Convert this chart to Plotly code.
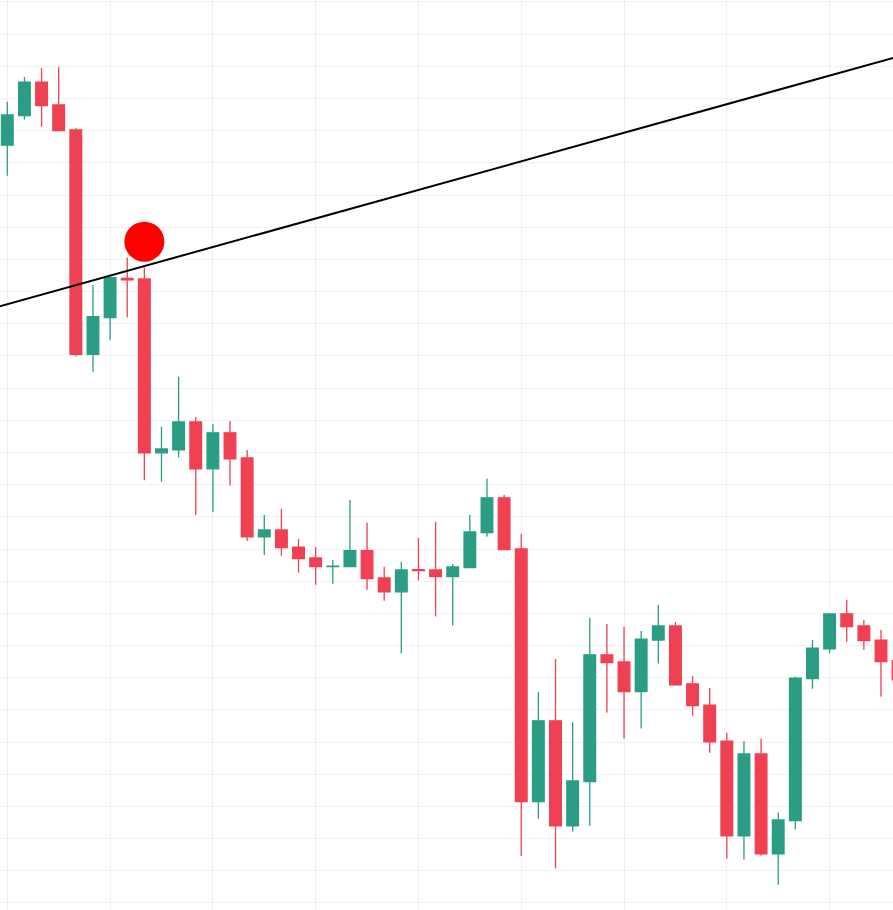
import plotly.graph_objects as go

# Candle index (bar number)
idx = list(range(53))

opens = [235.5, 244.7, 255.1, 248.0, 240.2, 170.5, 181.9, 194.1, 193.9, 139.9,
         140.8, 149.5, 134.9, 146.1, 138.3, 113.8, 115.9, 110.6, 107.2, 104.5,
         104.5, 109.5, 101.0, 96.7, 103.6, 103.5, 101.4, 104.2, 115.1, 125.9,
         110.0, 31.5, 56.6, 24.0, 37.7, 77.1, 74.9, 65.7, 81.7, 86.1,
         68.1, 61.5, 50.3, 20.9, 46.3, 15.3, 25.6, 69.7, 79.0, 89.8,
         86.1, 81.7, 75.3]
highs = [249.0, 256.7, 259.5, 259.8, 240.8, 192.0, 194.7, 200.6, 197.5, 148.0,
         163.5, 151.0, 148.8, 149.8, 140.8, 120.6, 122.4, 113.1, 110.6, 106.6,
         125.2, 118.2, 104.5, 106.0, 113.4, 118.5, 105.3, 120.6, 131.8, 126.8,
         114.7, 65.6, 75.8, 56.2, 88.6, 86.7, 85.8, 84.5, 92.6, 87.3,
         70.5, 66.8, 52.8, 50.3, 51.0, 28.1, 70.3, 81.7, 89.8, 94.2,
         87.9, 84.8, 77.1]
lows = [226.0, 243.5, 241.2, 240.0, 169.8, 165.1, 175.0, 181.9, 131.4, 130.9,
        138.4, 120.6, 121.6, 129.7, 112.6, 108.1, 107.9, 102.6, 98.9, 99.2,
        104.3, 97.3, 93.9, 77.5, 100.2, 89.0, 86.2, 104.2, 113.8, 109.8,
        14.6, 26.2, 10.7, 22.2, 24.0, 59.1, 51.1, 54.2, 74.4, 67.5,
        58.2, 46.7, 13.8, 13.5, 14.7, 5.7, 22.8, 66.6, 77.5, 81.2,
        78.7, 64.1, 66.2]
closes = [244.9, 255.1, 247.8, 240.0, 170.5, 182.2, 194.3, 193.6, 139.9, 141.1,
          149.5, 134.9, 146.1, 138.0, 113.8, 115.9, 110.4, 107.0, 104.5, 104.7,
          109.5, 100.8, 96.7, 103.5, 103.3, 101.4, 104.4, 115.3, 125.9, 109.8,
          31.5, 56.6, 24.0, 37.9, 77.1, 74.7, 65.7, 82.0, 86.1, 67.8,
          61.3, 50.1, 20.9, 46.3, 15.3, 25.8, 69.9, 79.2, 89.8, 85.9,
          81.5, 75.0, 69.3]

# Trend line anchor points (bar index, price)
trend_x = [-1, 53]
trend_y = [184.6, 264.5]

# Highlight point (bar index, price)
dot_x = [8]
dot_y = [205.5]

GREEN = "#2a9d84"
RED = "#ef4152"

fig = go.Figure()
fig.add_trace(go.Candlestick(
    x=idx, open=opens, high=highs, low=lows, close=closes,
    increasing=dict(line=dict(color=GREEN, width=1.3), fillcolor=GREEN),
    decreasing=dict(line=dict(color=RED, width=1.3), fillcolor=RED),
    whiskerwidth=0, hoverinfo="skip",
))
fig.add_trace(go.Scatter(x=trend_x, y=trend_y, mode="lines",
                         line=dict(color="#000000", width=2), hoverinfo="skip"))
fig.add_trace(go.Scatter(x=dot_x, y=dot_y, mode="markers",
                         marker=dict(color="#ff0000", size=40, line=dict(width=0)),
                         hoverinfo="skip"))

fig.update_layout(
    width=893, height=910,
    margin=dict(l=0, r=0, t=0, b=0),
    paper_bgcolor="white", plot_bgcolor="white",
    showlegend=False,
    boxgap=0.32, boxgroupgap=0,
    xaxis=dict(range=[-0.426, 51.70], tick0=0, dtick=6, showticklabels=False,
               showgrid=True, gridcolor="#eef0f3", gridwidth=1, zeroline=False,
               showline=False, rangeslider=dict(visible=False), ticks=""),
    yaxis=dict(range=[-2.18, 280.6], tick0=0, dtick=10, showticklabels=False,
               showgrid=True, gridcolor="#eef0f3", gridwidth=1, zeroline=False,
               showline=False, ticks=""),
)

fig.write_html("out.html",
               config={"displayModeBar": False},
               post_script="document.body.style.margin='0';document.body.style.overflow='hidden';")
